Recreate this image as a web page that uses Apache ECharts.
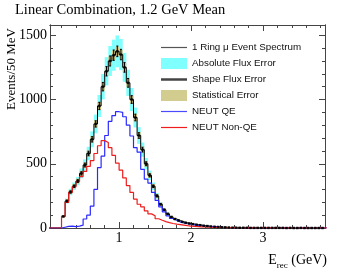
<!DOCTYPE html>
<html>
<head>
<meta charset="utf-8">
<script src="https://cdn.jsdelivr.net/npm/echarts@6/dist/echarts.min.js"></script>
<style>html,body{margin:0;padding:0;background:#fff}#c{width:344px;height:272px}</style>
</head>
<body>
<div id="c"></div>
<script>
// ---- data (bins of 50 MeV, first bin starts at 0.00 GeV) ----
const binStart = 0.0;
const binWidth = 0.05;
const spectrum = [
  0, 0, 0, 0,
  90, 210, 280, 325, 365, 425, 490, 580, 690, 810, 950, 1100, 1220, 1300, 1345, 1375, 1350,
  1250, 1130, 1000, 860, 720, 610, 500, 410, 325, 250, 185, 142, 110, 86, 70, 58, 48, 41, 35, 30,
  26, 22, 18, 15, 12, 10, 8, 6, 5, 4, 3, 3, 2, 2, 2, 1, 1, 1, 1, 1,
  1, 1, 1, 1, 1, 0, 1, 0, 0, 1, 0, 0, 0, 0, 0, 0, 0
];
const neutQE = [
  0, 0, 0, 0,
  6, 12, 14, 10, 14, 22, 70, 100, 170, 300, 470, 560, 720, 830, 875, 905, 900,
  866, 800, 716, 625, 590, 457, 380, 350, 277, 215, 165, 125, 95, 74, 60, 48, 40, 34, 29, 25,
  21, 18, 15, 12, 10, 8, 6, 5, 4, 3, 3, 2, 2, 2, 1, 1, 1, 1, 1, 1,
  1, 1, 1, 0, 1, 0, 0, 0, 0, 0, 0, 0, 0, 0, 0, 0, 0
];
const neutNonQE = [
  0, 0, 0, 0,
  90, 200, 277, 320, 360, 400, 440, 480, 525, 580, 640, 680, 665, 625, 565, 505, 450,
  390, 330, 277, 225, 185, 165, 134, 110, 95, 72, 60, 50, 42, 35, 30, 26, 22, 18, 15, 13,
  11, 9, 8, 7, 6, 5, 4, 4, 3, 3, 2, 2, 2, 1, 1, 1, 1, 1, 1, 1,
  1, 1, 1, 1, 0, 1, 0, 0, 0, 0, 0, 0, 0, 0, 0, 0, 0
];
const firstFilledBin = 4;
const absFluxErrFrac = 0.09;
const shapeErrFrac = 0.03;
const xMajorTicks = [1, 2, 3];
const xMinorTicks = [0.2, 0.4, 0.6, 0.8, 1.2, 1.4, 1.6, 1.8, 2.2, 2.4, 2.6, 2.8, 3.2, 3.4, 3.6, 3.8];
const yMajorTicks = [0, 500, 1000, 1500];
const yMinorTicks = [100, 200, 300, 400, 600, 700, 800, 900, 1100, 1200, 1300, 1400];
const titleText = 'Linear Combination, 1.2 GeV Mean';
const yTitle = 'Events/50 MeV';
const legendLabels = ['1 Ring \u03bc Event Spectrum', 'Absolute Flux Error', 'Shape Flux Error', 'Statistical Error', 'NEUT QE', 'NEUT Non-QE'];

// ---- styles ----
const X_MIN = 0.04, X_MAX = 3.86, Y_MAX = 1580;
const CYAN = '#80ffff', TAN = '#cfc585', BLUE = '#2a2aff', RED = '#ee1c1c', FRAME = '#444';
const SERIF = '"Liberation Serif","Times New Roman",serif';
const SANS = '"Liberation Sans",Arial,sans-serif';

const edge = i => +(binStart + i * binWidth).toFixed(4);
function stepData(vals) {
  const d = vals.map((v, i) => [edge(i), v]);
  d.push([edge(vals.length), vals[vals.length - 1]]);
  return d;
}
const bandAbs = [], bandStat = [], errBars = [], dots = [];
spectrum.forEach((v, i) => {
  if (i < firstFilledBin) return;
  const x0 = edge(i), x1 = edge(i + 1), xc = (x0 + x1) / 2;
  bandAbs.push([x0, x1, v * (1 - absFluxErrFrac), v * (1 + absFluxErrFrac)]);
  const s = Math.sqrt(v);
  bandStat.push([x0, x1, v - s, v + s]);
  errBars.push([xc, v * (1 - shapeErrFrac), v * (1 + shapeErrFrac)]);
  dots.push([xc, v]);
});

function rectItem(color) {
  return function (params, api) {
    const p0 = api.coord([api.value(0), api.value(3)]);
    const p1 = api.coord([api.value(1), api.value(2)]);
    const shape = echarts.graphic.clipRectByRect(
      { x: p0[0], y: p0[1], width: p1[0] - p0[0], height: p1[1] - p0[1] },
      { x: params.coordSys.x, y: params.coordSys.y, width: params.coordSys.width, height: params.coordSys.height });
    return shape && { type: 'rect', shape: shape, style: { fill: color } };
  };
}
function errItem(params, api) {
  const top = api.coord([api.value(0), api.value(2)]);
  const bot = api.coord([api.value(0), api.value(1)]);
  const cs = params.coordSys;
  if (top[0] < cs.x || top[0] > cs.x + cs.width) return null;
  const st = { stroke: '#000', lineWidth: 1 };
  return { type: 'group', children: [
    { type: 'line', shape: { x1: top[0], y1: top[1], x2: bot[0], y2: bot[1] }, style: st },
    { type: 'line', shape: { x1: top[0] - 1, y1: top[1], x2: top[0] + 1, y2: top[1] }, style: st },
    { type: 'line', shape: { x1: bot[0] - 1, y1: bot[1], x2: bot[0] + 1, y2: bot[1] }, style: st }
  ]};
}

function xAx(pos, ticks, len, labels) {
  return {
    type: 'value', position: pos, min: X_MIN, max: X_MAX,
    axisLine: { show: true, onZero: false, lineStyle: { color: FRAME, width: 1 } },
    axisTick: { show: true, inside: true, length: len, customValues: ticks, lineStyle: { color: FRAME } },
    axisLabel: labels ? { show: true, customValues: labels, margin: 3, fontFamily: SERIF, fontSize: 14, color: '#000', formatter: v => String(v) } : { show: false },
    splitLine: { show: false }
  };
}
function yAx(pos, ticks, len, labels) {
  return {
    type: 'value', position: pos, min: 0, max: Y_MAX,
    axisLine: { show: true, onZero: false, lineStyle: { color: FRAME, width: 1 } },
    axisTick: { show: true, inside: true, length: len, customValues: ticks, lineStyle: { color: FRAME } },
    axisLabel: labels ? { show: true, customValues: labels, margin: 3, fontFamily: SERIF, fontSize: 14, color: '#000', formatter: v => String(v) } : { show: false },
    splitLine: { show: false }
  };
}

// legend graphics
const legendGfx = [];
const LX0 = 161, LX1 = 187, LTX = 192, LY0 = 47.5, LDY = 16;
const legendStyles = [
  { t: 'line', c: '#555', w: 1.2 }, { t: 'box', c: CYAN }, { t: 'line', c: '#444', w: 2.5 },
  { t: 'box', c: '#d3cc8f' }, { t: 'line', c: '#4a4aff', w: 1.2 }, { t: 'line', c: RED, w: 1.2 }
];
legendLabels.forEach((lab, i) => {
  const y = LY0 + i * LDY;
  const s = legendStyles[i];
  if (s.t === 'box') legendGfx.push({ type: 'rect', shape: { x: LX0, y: y - 5.5, width: LX1 - LX0, height: 11 }, style: { fill: s.c } });
  else legendGfx.push({ type: 'line', shape: { x1: LX0, y1: y, x2: LX1, y2: y }, style: { stroke: s.c, lineWidth: s.w } });
  legendGfx.push({ type: 'text', x: LTX, y: y, style: { text: lab, font: '9.8px ' + SANS, fill: '#111', textVerticalAlign: 'middle' } });
});

const chart = echarts.init(document.getElementById('c'), null, { renderer: 'canvas' });
chart.setOption({
  animation: false,
  backgroundColor: '#fff',
  grid: { left: 50, right: 19, top: 25, bottom: 44 },
  xAxis: [ xAx('bottom', xMajorTicks, 6, xMajorTicks), xAx('bottom', xMinorTicks, 3, null),
           xAx('top', xMajorTicks, 6, null), xAx('top', xMinorTicks, 3, null) ],
  yAxis: [ yAx('left', yMajorTicks, 6, yMajorTicks), yAx('left', yMinorTicks, 3, null),
           yAx('right', yMajorTicks, 6, null), yAx('right', yMinorTicks, 3, null) ],
  series: [
    { type: 'custom', renderItem: rectItem(CYAN), data: bandAbs, encode: { x: [0, 1], y: [2, 3] }, z: 1, silent: true },
    { type: 'custom', renderItem: rectItem(TAN), data: bandStat, encode: { x: [0, 1], y: [2, 3] }, z: 2, silent: true },
    { type: 'line', step: 'end', data: stepData(spectrum), symbol: 'none', lineStyle: { color: '#000', width: 1 }, z: 3 },
    { type: 'line', step: 'end', data: stepData(neutQE), symbol: 'none', lineStyle: { color: BLUE, width: 1.2 }, z: 4 },
    { type: 'line', step: 'end', data: stepData(neutNonQE), symbol: 'none', lineStyle: { color: RED, width: 1.2 }, z: 5 },
    { type: 'custom', renderItem: errItem, data: errBars, encode: { x: 0, y: [1, 2] }, z: 6, silent: true },
    { type: 'scatter', data: dots, symbol: 'rect', symbolSize: 2.5, itemStyle: { color: '#000' }, z: 7, clip: true }
  ],
  graphic: [
    { type: 'text', x: 15, y: 10, style: { text: titleText, font: '14.5px ' + SERIF, fill: '#000', textVerticalAlign: 'middle' } },
    { type: 'text', x: 12, y: 69, rotation: Math.PI / 2, style: { text: yTitle, font: '13px ' + SERIF, fill: '#000', textAlign: 'center', textVerticalAlign: 'middle' } },
    { type: 'text', x: 327, y: 260, style: {
        text: '{e|E}{s|rec}{e| (GeV)}', align: 'right', verticalAlign: 'middle', textAlign: 'right', textVerticalAlign: 'middle',
        rich: { e: { font: '14px ' + SERIF, fill: '#000', verticalAlign: 'bottom' },
                s: { font: '9px ' + SERIF, fill: '#000', verticalAlign: 'bottom', padding: [0, 0, -3, 0] } } } }
  ].concat(legendGfx)
});
</script>
</body>
</html>
